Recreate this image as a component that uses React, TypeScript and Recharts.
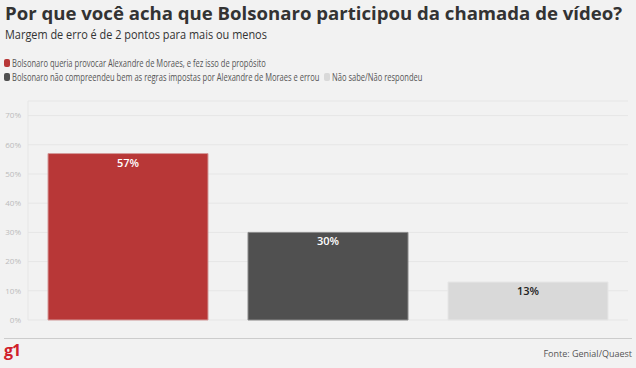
import React from 'react';
import { BarChart, Bar, Cell, XAxis, YAxis, CartesianGrid, LabelList } from 'recharts';

const categories = [
  'Bolsonaro queria provocar Alexandre de Moraes, e fez isso de propósito',
  'Bolsonaro não compreendeu bem as regras impostas por Alexandre de Moraes e errou',
  'Não sabe/Não respondeu',
];
const values = [57, 30, 13];
const yTicks = [0, 10, 20, 30, 40, 50, 60, 70];

const COLORS = ['#b83737', '#505050', '#d9d9d9'];
const STROKES = ['#d49a9a', '#8a8a8a', '#e6e6e6'];
const LABEL_COLORS = ['#ffffff', '#ffffff', '#222222'];

const data = categories.map((name, i) => ({ name, value: values[i] }));

// legend rows: first item alone, the other two share the second row
const legendPos = [
  { left: 4, top: 57 },
  { left: 4, top: 71 },
  { left: 324, top: 71 },
];

function ChartLegend() {
  return (
    <>
      {categories.map((c, i) => (
        <div
          key={c}
          style={{ position: 'absolute', ...legendPos[i], display: 'flex', alignItems: 'center', height: 11 }}
        >
          <span
            style={{
              display: 'inline-block',
              width: 6,
              height: 8,
              borderRadius: 2,
              background: COLORS[i],
              marginRight: 2,
            }}
          />
          <span
            style={{
              display: 'inline-block',
              fontSize: 10,
              color: '#555',
              whiteSpace: 'nowrap',
              transform: 'scaleX(0.755)',
              transformOrigin: 'left center',
            }}
          >
            {c}
          </span>
        </div>
      ))}
    </>
  );
}

export default function App() {
  return (
    <div
      style={{
        position: 'absolute',
        top: 0,
        left: 0,
        width: 636,
        height: 368,
        background: '#f2f2f2',
        fontFamily: "'Open Sans', sans-serif",
        overflow: 'hidden',
      }}
    >
      <div
        style={{
          position: 'absolute',
          left: 5,
          top: 2,
          fontSize: 18.6,
          fontWeight: 700,
          color: '#333',
          lineHeight: '22px',
          whiteSpace: 'nowrap',
        }}
      >
        Por que você acha que Bolsonaro participou da chamada de vídeo?
      </div>
      <div
        style={{
          position: 'absolute',
          left: 5,
          top: 26,
          fontSize: 13.5,
          color: '#333',
          lineHeight: '17px',
          whiteSpace: 'nowrap',
          transform: 'scaleX(0.81)',
          transformOrigin: 'left top',
        }}
      >
        Margem de erro é de 2 pontos para mais ou menos
      </div>
      <ChartLegend />
      <div style={{ position: 'absolute', left: 0, top: 0 }}>
        <BarChart
          width={636}
          height={368}
          data={data}
          margin={{ top: 101, right: 8, bottom: 48, left: 0 }}
          barCategoryGap={20}
        >
          <CartesianGrid vertical={false} stroke="#e6e6e6" />
          <XAxis dataKey="name" hide />
          <YAxis
            width={28}
            domain={[0, 75]}
            ticks={yTicks}
            interval={0}
            axisLine={{ stroke: '#e6e6e6' }}
            tickLine={false}
            tickSize={0}
            tickMargin={7}
            tick={{ fill: '#bbbbbb', fontSize: 8 }}
            tickFormatter={(v) => `${v}%`}
          />
          <Bar dataKey="value" isAnimationActive={false}>
            {data.map((_, i) => (
              <Cell key={i} fill={COLORS[i]} stroke={STROKES[i]} strokeWidth={1} />
            ))}
            <LabelList
              dataKey="value"
              content={(props: any) => {
                const { x, y, width, value, index } = props;
                return (
                  <text
                    x={x + width / 2}
                    y={y + 13}
                    textAnchor="middle"
                    fontSize={11}
                    fontWeight={600}
                    fill={LABEL_COLORS[index]}
                  >
                    {`${value}%`}
                  </text>
                );
              }}
            />
          </Bar>
        </BarChart>
      </div>
      <div style={{ position: 'absolute', left: 4, top: 338, width: 628, height: 1, background: '#cccccc' }} />
      <div
        style={{
          position: 'absolute',
          left: 4,
          top: 339,
          fontSize: 16,
          fontWeight: 700,
          color: '#d0202a',
          letterSpacing: -1,
          lineHeight: '22px',
        }}
      >
        g1
      </div>
      <div
        style={{
          position: 'absolute',
          right: 4,
          top: 348,
          fontSize: 9,
          color: '#555',
          lineHeight: '12px',
          whiteSpace: 'nowrap',
        }}
      >
        Fonte: Genial/Quaest
      </div>
    </div>
  );
}
